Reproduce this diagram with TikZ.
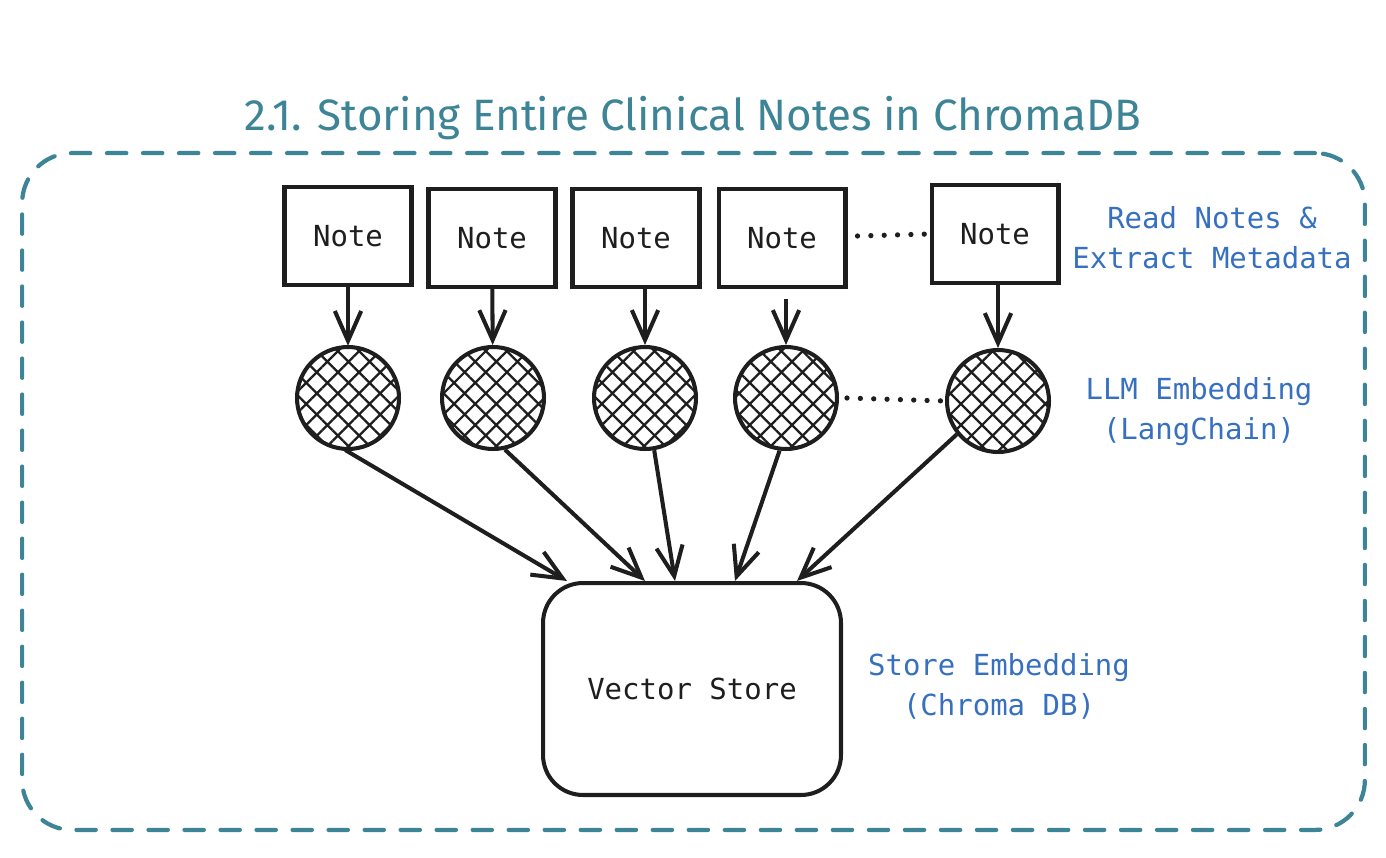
\documentclass[tikz,border=0pt]{standalone}
\usepackage{fontspec}
\setmainfont{Fira Sans}
\newfontfamily\monof{DejaVu Sans Mono}
\usetikzlibrary{arrows.meta,patterns.meta,calc}
\definecolor{teal1}{RGB}{61,132,150}
\definecolor{blue1}{RGB}{55,112,192}
\definecolor{ink}{RGB}{30,30,30}
\tikzset{
  x=0.02cm, y=-0.02cm,
  notebox/.style={draw=ink, line width=2.3pt, minimum width=2.54cm, minimum height=1.96cm, inner sep=0pt, font=\monof\fontsize{16.5}{19}\selectfont, text=ink},
  embed/.style={circle, draw=ink, line width=2.3pt, minimum size=2.04cm, inner sep=0pt,
     pattern={Hatch[angle=45,distance=8.5pt,line width=1.3pt]}, pattern color=ink},
  store/.style={draw=ink, line width=2.3pt, rounded corners=0.8cm, minimum width=5.96cm, minimum height=4.24cm, font=\monof\fontsize{16.5}{19}\selectfont, text=ink},
  lbl/.style={align=center, text=blue1, font=\monof\fontsize{16.5}{22.7}\selectfont},
  arr/.style={draw=ink, line width=2.3pt, -{Straight Barb[length=17pt,width=15pt,line width=2.3pt]}},
  dotl/.style={draw=ink, line width=3pt, dash pattern=on 0pt off 7.6pt, line cap=round},
  frame/.style={draw=teal1, line width=2.4pt, dash pattern=on 11pt off 9.5pt, line cap=round, rounded corners=1cm}
}
\begin{document}
\begin{tikzpicture}
\useasboundingbox (0,0) rectangle (1386,858);
\node[text=teal1, font=\fontsize{25}{28}\selectfont] (title) at (693,118) {2.1. Storing Entire Clinical Notes in ChromaDB};
\node[frame, minimum width=26.86cm, minimum height=13.54cm] (fr) at (693.5,491.5) {};

\node[notebox] (n1) at (348,236) {Note};
\node[notebox] (n2) at (492,238) {Note};
\node[notebox] (n3) at (636,238) {Note};
\node[notebox] (n4) at (782,238) {Note};
\node[notebox] (n5) at (995,234) {Note};

\node[embed] (c1) at (348,398) {};
\node[embed] (c2) at (493,398) {};
\node[embed] (c3) at (645,398) {};
\node[embed] (c4) at (786,398) {};
\node[embed] (c5) at (998,401) {};

\node[store] (vs) at (692,689) {Vector Store};

\node[lbl] (l1) at (1212,238) {Read Notes \&\\Extract Metadata};
\node[lbl] (l2) at (1199,412) {LLM Embedding\\(LangChain)};
\node[lbl] (l3) at (999,686) {Store Embedding\\(Chroma DB)};

\draw[arr] (n1) -- (c1);
\draw[arr] (n2) -- (c2);
\draw[arr] (n3.south -| c3) -- (c3);
\draw[arr] ([yshift=-0.2cm]n4.south -| c4) -- (c4);
\draw[arr] (n5.south -| c5) -- (c5);

\draw[dotl] (n4.east) ++(10,-2) coordinate (d1) (n5.west) coordinate (d2) (d1) -- (d2);
\draw[dotl] (c4.east) ++(8,0) coordinate (e1) (c5.west) coordinate (e2) (e1) -- (e2);

\draw[arr] (c1.-93) -- ([xshift=-2.5cm]vs.north);
\draw[arr] (c2.-77) -- ([xshift=-0.94cm]vs.north);
\draw[arr] (c3.-80) -- ([xshift=-0.34cm]vs.north);
\draw[arr] (c4.-97) -- ([xshift=0.86cm]vs.north);
\draw[arr] (c5.-141) -- ([xshift=2.1cm]vs.north);
\end{tikzpicture}
\end{document}
